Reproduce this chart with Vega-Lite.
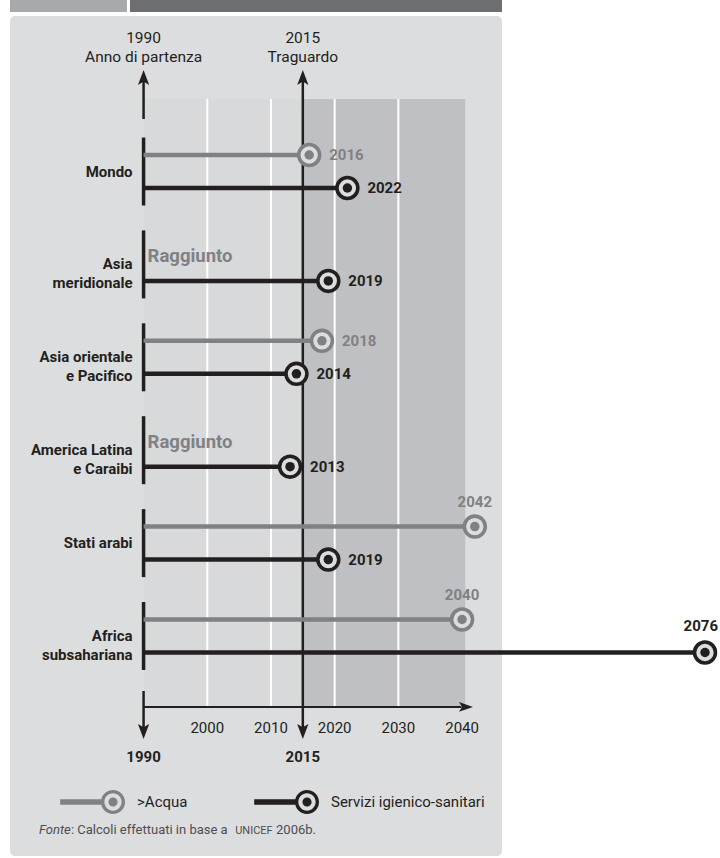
{
  "$schema": "https://vega.github.io/schema/vega-lite/v6.json",
  "width": 492,
  "height": 840,
  "autosize": {"type": "none"},
  "padding": {"left": 10, "top": 16, "right": 218, "bottom": 2},
  "background": "white",
  "config": {
    "view": {"stroke": null, "fill": "#dcdddf", "cornerRadius": 5},
    "font": "Roboto",
    "axis": {"disable": true}
  },
  "datasets": {
    "regions": [
      {"region": "Mondo", "label": "Mondo"},
      {"region": "Asia meridionale", "label": "Asia\nmeridionale"},
      {"region": "Asia orientale e Pacifico", "label": "Asia orientale\ne Pacifico"},
      {"region": "America Latina e Caraibi", "label": "America Latina\ne Caraibi"},
      {"region": "Stati arabi", "label": "Stati arabi"},
      {"region": "Africa subsahariana", "label": "Africa\nsubsahariana"}
    ],
    "goals": [
      {"region": "Mondo", "series": "Acqua", "year": 2016, "status": "Previsto"},
      {"region": "Mondo", "series": "Servizi igienico-sanitari", "year": 2022, "status": "Previsto"},
      {"region": "Asia meridionale", "series": "Acqua", "year": null, "status": "Raggiunto"},
      {"region": "Asia meridionale", "series": "Servizi igienico-sanitari", "year": 2019, "status": "Previsto"},
      {"region": "Asia orientale e Pacifico", "series": "Acqua", "year": 2018, "status": "Previsto"},
      {"region": "Asia orientale e Pacifico", "series": "Servizi igienico-sanitari", "year": 2014, "status": "Previsto"},
      {"region": "America Latina e Caraibi", "series": "Acqua", "year": null, "status": "Raggiunto"},
      {"region": "America Latina e Caraibi", "series": "Servizi igienico-sanitari", "year": 2013, "status": "Previsto"},
      {"region": "Stati arabi", "series": "Acqua", "year": 2042, "status": "Previsto"},
      {"region": "Stati arabi", "series": "Servizi igienico-sanitari", "year": 2019, "status": "Previsto"},
      {"region": "Africa subsahariana", "series": "Acqua", "year": 2040, "status": "Previsto"},
      {"region": "Africa subsahariana", "series": "Servizi igienico-sanitari", "year": 2076, "status": "Previsto"}
    ],
    "milestones": [
      {"year": 1990, "label": "1990", "caption": "Anno di partenza"},
      {"year": 2015, "label": "2015", "caption": "Traguardo"}
    ],
    "decades": [
      {"year": 2000}, {"year": 2010}, {"year": 2020}, {"year": 2030}, {"year": 2040}
    ],
    "frame": [{"panel": "frame"}]
  },
  "layer": [
    {
      "data": {"name": "frame"},
      "layer": [
        {
          "mark": {"type": "rect", "color": "#a7a9ac"},
          "encoding": {
            "x": {"datum": 1969.03, "type": "quantitative", "scale": {"domain": [1969.03, 2046.27, 2076], "range": [0, 492, 695], "nice": false, "zero": false}},
            "x2": {"datum": 1987.39},
            "y": {"datum": -0.846, "type": "quantitative", "scale": {"domain": [-0.6738, 8.3682], "range": [0, 840], "nice": false, "zero": false}},
            "y2": {"datum": -0.717}
          }
        },
        {
          "mark": {"type": "rect", "color": "#6d6e71"},
          "encoding": {
            "x": {"datum": 1987.86}, "x2": {"datum": 2046.27},
            "y": {"datum": -0.846}, "y2": {"datum": -0.717}
          }
        },
        {
          "mark": {"type": "rect", "color": "#d8d9db"},
          "encoding": {
            "x": {"datum": 1990}, "x2": {"datum": 2015},
            "y": {"datum": 0.2196}, "y2": {"datum": 6.764}
          }
        },
        {
          "mark": {"type": "rect", "color": "#bfc0c3"},
          "encoding": {
            "x": {"datum": 2015}, "x2": {"datum": 2040.5},
            "y": {"datum": 0.2196}, "y2": {"datum": 6.764}
          }
        },
        {
          "data": {"name": "decades"},
          "transform": [{"filter": "datum.year < 2040"}],
          "mark": {"type": "rule", "color": "white", "strokeWidth": 2},
          "encoding": {
            "x": {"field": "year", "type": "quantitative"},
            "y": {"datum": 0.2196}, "y2": {"datum": 6.764}
          }
        },
        {
          "mark": {"type": "rule", "color": "#231f20", "strokeWidth": 2},
          "encoding": {
            "x": {"datum": 1990}, "x2": {"datum": 2039.9},
            "y": {"datum": 6.764}
          }
        },
        {
          "mark": {"type": "point", "shape": "M1,0L-1,-0.7L-0.55,0L-1,0.7Z", "size": 196, "filled": true, "opacity": 1, "color": "#231f20", "strokeWidth": 0},
          "encoding": {
            "x": {"datum": 2040.61},
            "y": {"datum": 6.764}
          }
        },
        {
          "data": {"name": "milestones"},
          "mark": {"type": "rule", "color": "#231f20", "strokeWidth": 2.5},
          "encoding": {
            "x": {"field": "year", "type": "quantitative"},
            "y": {"datum": -0.0118}, "y2": {"datum": 0.435}
          }
        },
        {
          "data": {"name": "milestones"},
          "mark": {"type": "rule", "color": "#231f20", "strokeWidth": 2.5},
          "encoding": {
            "x": {"field": "year", "type": "quantitative"},
            "y": {"datum": 6.592}, "y2": {"datum": 7.028}
          }
        },
        {
          "data": {"name": "milestones"},
          "transform": [{"filter": "datum.year == 2015"}],
          "mark": {"type": "rule", "color": "#231f20", "strokeWidth": 2.5},
          "encoding": {
            "x": {"field": "year", "type": "quantitative"},
            "y": {"datum": 0.435}, "y2": {"datum": 6.592}
          }
        },
        {
          "data": {"name": "milestones"},
          "mark": {"type": "point", "shape": "M0,-1L0.75,1L0,0.55L-0.75,1Z", "size": 225, "filled": true, "opacity": 1, "color": "#231f20", "strokeWidth": 0},
          "encoding": {
            "x": {"field": "year", "type": "quantitative"},
            "y": {"datum": -0.0118}
          }
        },
        {
          "data": {"name": "milestones"},
          "mark": {"type": "point", "shape": "M0,1L0.75,-1L0,-0.55L-0.75,-1Z", "size": 225, "filled": true, "opacity": 1, "color": "#231f20", "strokeWidth": 0},
          "encoding": {
            "x": {"field": "year", "type": "quantitative"},
            "y": {"datum": 7.028}
          }
        },
        {
          "data": {"name": "milestones"},
          "mark": {"type": "text", "font": "Roboto", "fontSize": 15.5, "color": "#231f20", "align": "center", "baseline": "middle"},
          "encoding": {
            "x": {"field": "year", "type": "quantitative"},
            "y": {"datum": -0.437},
            "text": {"field": "label"}
          }
        },
        {
          "data": {"name": "milestones"},
          "mark": {"type": "text", "font": "Roboto", "fontSize": 15.5, "color": "#231f20", "align": "center", "baseline": "middle"},
          "encoding": {
            "x": {"field": "year", "type": "quantitative"},
            "y": {"datum": -0.2325},
            "text": {"field": "caption"}
          }
        },
        {
          "data": {"name": "milestones"},
          "mark": {"type": "text", "font": "Roboto", "fontSize": 15, "fontWeight": "bold", "color": "#231f20", "align": "center", "baseline": "middle"},
          "encoding": {
            "x": {"field": "year", "type": "quantitative"},
            "y": {"datum": 7.302},
            "text": {"field": "label"}
          }
        },
        {
          "data": {"name": "decades"},
          "mark": {"type": "text", "font": "Roboto", "fontSize": 15, "color": "#231f20", "align": "center", "baseline": "middle"},
          "encoding": {
            "x": {"field": "year", "type": "quantitative"},
            "y": {"datum": 6.99},
            "text": {"field": "year", "type": "quantitative", "format": "d"}
          }
        },
        {
          "mark": {"type": "text", "font": "Roboto", "fontSize": 13, "fontStyle": "italic", "color": "#4d4d4f", "align": "left", "baseline": "middle"},
          "encoding": {
            "x": {"datum": 1973.58},
            "y": {"datum": 8.088},
            "text": {"value": "Fonte"}
          }
        },
        {
          "mark": {"type": "text", "font": "Roboto", "fontSize": 13, "color": "#4d4d4f", "align": "left", "baseline": "middle"},
          "encoding": {
            "x": {"datum": 1978.6},
            "y": {"datum": 8.088},
            "text": {"value": ": Calcoli effettuati in base a"}
          }
        },
        {
          "mark": {"type": "text", "font": "Roboto", "fontSize": 11, "color": "#4d4d4f", "align": "left", "baseline": "middle"},
          "encoding": {
            "x": {"datum": 2004.38},
            "y": {"datum": 8.1},
            "text": {"value": "UNICEF"}
          }
        },
        {
          "mark": {"type": "text", "font": "Roboto", "fontSize": 13, "color": "#4d4d4f", "align": "left", "baseline": "middle"},
          "encoding": {
            "x": {"datum": 2010.8},
            "y": {"datum": 8.088},
            "text": {"value": "2006b."}
          }
        }
      ]
    },
    {
      "layer": [
        {
          "data": {"name": "regions"},
          "mark": {"type": "tick", "color": "#231f20", "size": 68, "thickness": 3.5, "opacity": 1},
          "encoding": {
            "x": {"datum": 1990},
            "y": {"field": "region", "type": "nominal", "sort": null, "scale": {"domain": ["Mondo", "Asia meridionale", "Asia orientale e Pacifico", "America Latina e Caraibi", "Stati arabi", "Africa subsahariana"], "range": [109.05, 666.45], "paddingInner": 0, "paddingOuter": 0}}
          }
        },
        {
          "data": {"name": "goals"},
          "transform": [{"filter": "isValid(datum.year)"}],
          "mark": {"type": "bar", "size": 4.5},
          "encoding": {
            "x": {"field": "year", "type": "quantitative"},
            "x2": {"datum": 1990},
            "y": {"field": "region", "type": "nominal"},
            "yOffset": {"field": "series", "type": "nominal", "scale": {"domain": ["Acqua", "Servizi igienico-sanitari"], "paddingInner": 0, "paddingOuter": 0.4076}},
            "color": {
              "field": "series", "type": "nominal",
              "scale": {"domain": ["Acqua", "Servizi igienico-sanitari"], "range": ["#808184", "#231f20"]},
              "legend": {
                "orient": "none", "legendX": 91, "legendY": 774, "direction": "horizontal",
                "title": null, "padding": 0,
                "symbolType": "M-4.4,-0.22L-0.9,-0.22L-0.9,0.22L-4.4,0.22ZM-1,0A1,1,0,1,1,1,0A1,1,0,1,1,-1,0ZM-0.72,0A0.72,0.72,0,1,0,0.72,0A0.72,0.72,0,1,0,-0.72,0ZM-0.38,0A0.38,0.38,0,1,1,0.38,0A0.38,0.38,0,1,1,-0.38,0Z",
                "symbolSize": 576, "symbolStrokeWidth": 0, "symbolOpacity": 1,
                "labelFont": "Roboto", "labelFontSize": 15, "labelColor": "#231f20", "labelOffset": 12, "labelLimit": 300,
                "columnPadding": 66,
                "labelExpr": "datum.label == 'Acqua' ? '>Acqua' : datum.label"
              }
            }
          }
        },
        {
          "data": {"name": "goals"},
          "transform": [{"filter": "isValid(datum.year)"}],
          "mark": {"type": "point", "shape": "circle", "filled": true, "opacity": 1, "size": 600, "strokeWidth": 0},
          "encoding": {
            "x": {"field": "year", "type": "quantitative"},
            "y": {"field": "region", "type": "nominal"},
            "yOffset": {"field": "series", "type": "nominal"},
            "color": {
              "field": "series", "type": "nominal",
              "legend": {
                "orient": "none", "legendX": 91, "legendY": 774, "direction": "horizontal",
                "title": null, "padding": 0,
                "symbolType": "M-4.4,-0.22L-0.9,-0.22L-0.9,0.22L-4.4,0.22ZM-1,0A1,1,0,1,1,1,0A1,1,0,1,1,-1,0ZM-0.72,0A0.72,0.72,0,1,0,0.72,0A0.72,0.72,0,1,0,-0.72,0ZM-0.38,0A0.38,0.38,0,1,1,0.38,0A0.38,0.38,0,1,1,-0.38,0Z",
                "symbolSize": 576, "symbolStrokeWidth": 0, "symbolOpacity": 1,
                "labelFont": "Roboto", "labelFontSize": 15, "labelColor": "#231f20", "labelOffset": 12, "labelLimit": 300,
                "columnPadding": 66,
                "labelExpr": "datum.label == 'Acqua' ? '>Acqua' : datum.label"
              }
            }
          }
        },
        {
          "data": {"name": "goals"},
          "transform": [{"filter": "isValid(datum.year)"}],
          "mark": {"type": "point", "shape": "circle", "filled": true, "opacity": 1, "size": 300, "strokeWidth": 0, "color": "#dcdddf"},
          "encoding": {
            "x": {"field": "year", "type": "quantitative"},
            "y": {"field": "region", "type": "nominal"},
            "yOffset": {"field": "series", "type": "nominal"}
          }
        },
        {
          "data": {"name": "goals"},
          "transform": [{"filter": "isValid(datum.year)"}],
          "mark": {"type": "point", "shape": "circle", "filled": true, "opacity": 1, "size": 90, "strokeWidth": 0},
          "encoding": {
            "x": {"field": "year", "type": "quantitative"},
            "y": {"field": "region", "type": "nominal"},
            "yOffset": {"field": "series", "type": "nominal"},
            "color": {
              "field": "series", "type": "nominal",
              "legend": {
                "orient": "none", "legendX": 91, "legendY": 774, "direction": "horizontal",
                "title": null, "padding": 0,
                "symbolType": "M-4.4,-0.22L-0.9,-0.22L-0.9,0.22L-4.4,0.22ZM-1,0A1,1,0,1,1,1,0A1,1,0,1,1,-1,0ZM-0.72,0A0.72,0.72,0,1,0,0.72,0A0.72,0.72,0,1,0,-0.72,0ZM-0.38,0A0.38,0.38,0,1,1,0.38,0A0.38,0.38,0,1,1,-0.38,0Z",
                "symbolSize": 576, "symbolStrokeWidth": 0, "symbolOpacity": 1,
                "labelFont": "Roboto", "labelFontSize": 15, "labelColor": "#231f20", "labelOffset": 12, "labelLimit": 300,
                "columnPadding": 66,
                "labelExpr": "datum.label == 'Acqua' ? '>Acqua' : datum.label"
              }
            }
          }
        },
        {
          "data": {"name": "goals"},
          "transform": [{"filter": "isValid(datum.year) && datum.year < 2040"}],
          "mark": {"type": "text", "font": "Roboto", "fontSize": 15, "fontWeight": "bold", "align": "left", "baseline": "middle", "dx": 20},
          "encoding": {
            "x": {"field": "year", "type": "quantitative"},
            "y": {"field": "region", "type": "nominal"},
            "yOffset": {"field": "series", "type": "nominal"},
            "text": {"field": "year", "type": "quantitative", "format": "d"},
            "color": {
              "field": "series", "type": "nominal",
              "legend": {
                "orient": "none", "legendX": 91, "legendY": 774, "direction": "horizontal",
                "title": null, "padding": 0,
                "symbolType": "M-4.4,-0.22L-0.9,-0.22L-0.9,0.22L-4.4,0.22ZM-1,0A1,1,0,1,1,1,0A1,1,0,1,1,-1,0ZM-0.72,0A0.72,0.72,0,1,0,0.72,0A0.72,0.72,0,1,0,-0.72,0ZM-0.38,0A0.38,0.38,0,1,1,0.38,0A0.38,0.38,0,1,1,-0.38,0Z",
                "symbolSize": 576, "symbolStrokeWidth": 0, "symbolOpacity": 1,
                "labelFont": "Roboto", "labelFontSize": 15, "labelColor": "#231f20", "labelOffset": 12, "labelLimit": 300,
                "columnPadding": 66,
                "labelExpr": "datum.label == 'Acqua' ? '>Acqua' : datum.label"
              }
            }
          }
        },
        {
          "data": {"name": "goals"},
          "transform": [{"filter": "isValid(datum.year) && datum.year >= 2040 && datum.year < 2050"}],
          "mark": {"type": "text", "font": "Roboto", "fontSize": 15, "fontWeight": "bold", "align": "center", "baseline": "middle", "dy": -25},
          "encoding": {
            "x": {"field": "year", "type": "quantitative"},
            "y": {"field": "region", "type": "nominal"},
            "yOffset": {"field": "series", "type": "nominal"},
            "text": {"field": "year", "type": "quantitative", "format": "d"},
            "color": {
              "field": "series", "type": "nominal",
              "legend": {
                "orient": "none", "legendX": 91, "legendY": 774, "direction": "horizontal",
                "title": null, "padding": 0,
                "symbolType": "M-4.4,-0.22L-0.9,-0.22L-0.9,0.22L-4.4,0.22ZM-1,0A1,1,0,1,1,1,0A1,1,0,1,1,-1,0ZM-0.72,0A0.72,0.72,0,1,0,0.72,0A0.72,0.72,0,1,0,-0.72,0ZM-0.38,0A0.38,0.38,0,1,1,0.38,0A0.38,0.38,0,1,1,-0.38,0Z",
                "symbolSize": 576, "symbolStrokeWidth": 0, "symbolOpacity": 1,
                "labelFont": "Roboto", "labelFontSize": 15, "labelColor": "#231f20", "labelOffset": 12, "labelLimit": 300,
                "columnPadding": 66,
                "labelExpr": "datum.label == 'Acqua' ? '>Acqua' : datum.label"
              }
            }
          }
        },
        {
          "data": {"name": "goals"},
          "transform": [{"filter": "isValid(datum.year) && datum.year >= 2050"}],
          "mark": {"type": "text", "font": "Roboto", "fontSize": 15, "fontWeight": "bold", "align": "right", "baseline": "middle", "dy": -26, "dx": 13},
          "encoding": {
            "x": {"field": "year", "type": "quantitative"},
            "y": {"field": "region", "type": "nominal"},
            "yOffset": {"field": "series", "type": "nominal"},
            "text": {"field": "year", "type": "quantitative", "format": "d"},
            "color": {
              "field": "series", "type": "nominal",
              "legend": {
                "orient": "none", "legendX": 91, "legendY": 774, "direction": "horizontal",
                "title": null, "padding": 0,
                "symbolType": "M-4.4,-0.22L-0.9,-0.22L-0.9,0.22L-4.4,0.22ZM-1,0A1,1,0,1,1,1,0A1,1,0,1,1,-1,0ZM-0.72,0A0.72,0.72,0,1,0,0.72,0A0.72,0.72,0,1,0,-0.72,0ZM-0.38,0A0.38,0.38,0,1,1,0.38,0A0.38,0.38,0,1,1,-0.38,0Z",
                "symbolSize": 576, "symbolStrokeWidth": 0, "symbolOpacity": 1,
                "labelFont": "Roboto", "labelFontSize": 15, "labelColor": "#231f20", "labelOffset": 12, "labelLimit": 300,
                "columnPadding": 66,
                "labelExpr": "datum.label == 'Acqua' ? '>Acqua' : datum.label"
              }
            }
          }
        },
        {
          "data": {"name": "regions"},
          "mark": {"type": "text", "font": "Roboto", "fontSize": 15, "fontWeight": "bold", "color": "#231f20", "align": "right", "baseline": "middle", "dx": -11, "lineBreak": "\n", "lineHeight": 19},
          "encoding": {
            "x": {"datum": 1990},
            "y": {"field": "region", "type": "nominal"},
            "text": {"field": "label"}
          }
        },
        {
          "data": {"name": "goals"},
          "transform": [{"filter": "datum.status == 'Raggiunto'"}],
          "mark": {"type": "text", "font": "Roboto", "fontSize": 18.5, "fontWeight": "bold", "color": "#808184", "align": "left", "baseline": "middle", "dx": 4, "dy": 8.5},
          "encoding": {
            "x": {"datum": 1990},
            "y": {"field": "region", "type": "nominal"},
            "yOffset": {"field": "series", "type": "nominal"},
            "text": {"field": "status"}
          }
        }
      ]
    }
  ],
  "resolve": {"scale": {"y": "independent"}}
}
